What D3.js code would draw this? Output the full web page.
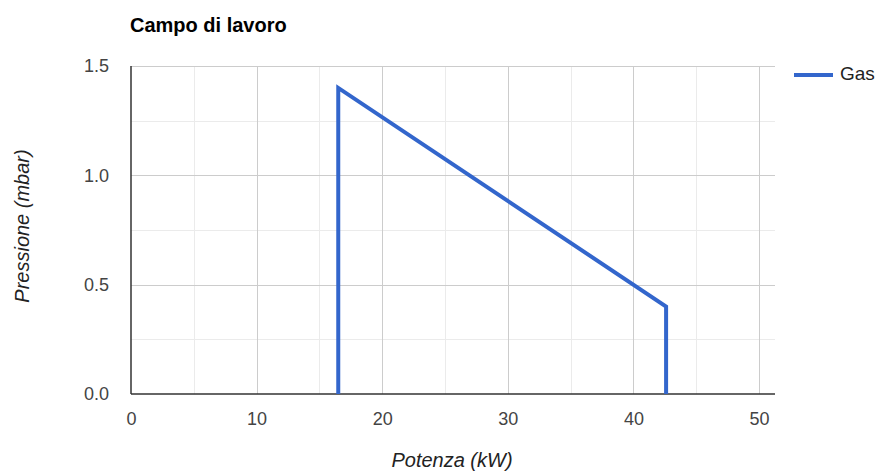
<!DOCTYPE html>
<html>
<head>
<meta charset="utf-8">
<script src="https://cdn.jsdelivr.net/npm/d3@7"></script>
<style>
  body { margin: 0; background: #fff; }
  text { font-family: "Liberation Sans", Arial, sans-serif; }
</style>
</head>
<body>
<script>
// data
const potenza = [16.5, 16.5, 42.6, 42.6];
const pressione = [0, 1.4, 0.4, 0];
const xTicks = [0, 10, 20, 30, 40, 50];
const yTicks = [0, 0.5, 1.0, 1.5];
const seriesName = "Gas";

const W = 881, H = 471;
const plot = { left: 131, right: 775, top: 66, bottom: 394 };

const svg = d3.select("body").append("svg")
  .attr("width", W).attr("height", H);

const x = d3.scaleLinear().domain([0, 51.27]).range([plot.left, plot.right]);
const y = d3.scaleLinear().domain([0, 1.5]).range([plot.bottom, plot.top]);

// minor gridlines
const xMinor = d3.range(5, 51, 10);
const yMinor = d3.range(0.25, 1.5, 0.5);
svg.append("g").selectAll("line").data(xMinor).join("line")
  .attr("x1", d => Math.round(x(d)) + 0.5).attr("x2", d => Math.round(x(d)) + 0.5)
  .attr("y1", plot.top).attr("y2", plot.bottom)
  .attr("stroke", "#ebebeb");
svg.append("g").selectAll("line").data(yMinor).join("line")
  .attr("y1", d => Math.round(y(d)) + 0.5).attr("y2", d => Math.round(y(d)) + 0.5)
  .attr("x1", plot.left).attr("x2", plot.right)
  .attr("stroke", "#ebebeb");

// major gridlines
svg.append("g").selectAll("line").data(xTicks.slice(1)).join("line")
  .attr("x1", d => Math.round(x(d)) + 0.5).attr("x2", d => Math.round(x(d)) + 0.5)
  .attr("y1", plot.top).attr("y2", plot.bottom)
  .attr("stroke", "#cccccc");
svg.append("g").selectAll("line").data(yTicks.slice(1)).join("line")
  .attr("y1", d => Math.round(y(d)) + 0.5).attr("y2", d => Math.round(y(d)) + 0.5)
  .attr("x1", plot.left).attr("x2", plot.right)
  .attr("stroke", "#cccccc");

// axes
const xAxis = d3.axisBottom(x).tickValues(xTicks).tickSize(0).tickPadding(18).tickFormat(d3.format("d"));
const yAxis = d3.axisLeft(y).tickValues(yTicks).tickSize(0).tickPadding(22).tickFormat(d3.format(".1f"));

const gx = svg.append("g").attr("transform", `translate(0,${plot.bottom})`).call(xAxis);
const gy = svg.append("g").attr("transform", `translate(${plot.left},0)`).call(yAxis);
[gx, gy].forEach(g => {
  g.select(".domain").remove();
  g.selectAll("text").attr("fill", "#444").style("font-size", "18px");
});

svg.append("line")
  .attr("x1", plot.left).attr("x2", plot.right)
  .attr("y1", plot.bottom).attr("y2", plot.bottom)
  .attr("stroke", "#333").attr("stroke-width", 1.5);
svg.append("line")
  .attr("x1", plot.left).attr("x2", plot.left)
  .attr("y1", plot.top).attr("y2", plot.bottom)
  .attr("stroke", "#333").attr("stroke-width", 1.5);

// series
const line = d3.line().x((d, i) => x(potenza[i])).y(d => y(d));
svg.append("path")
  .datum(pressione)
  .attr("d", line)
  .attr("fill", "none")
  .attr("stroke", "#3366cc")
  .attr("stroke-width", 4)
  .attr("stroke-linejoin", "miter");

// title
svg.append("text")
  .attr("x", 130).attr("y", 32)
  .attr("font-weight", "bold").attr("font-size", 20)
  .attr("fill", "#000")
  .text("Campo di lavoro");

// axis titles
svg.append("text")
  .attr("x", 452).attr("y", 467)
  .attr("text-anchor", "middle")
  .attr("font-style", "italic").attr("font-size", 20).attr("fill", "#222")
  .text("Potenza (kW)");
svg.append("text")
  .attr("transform", "translate(29,226) rotate(-90)")
  .attr("text-anchor", "middle")
  .attr("font-style", "italic").attr("font-size", 20).attr("fill", "#222")
  .text("Pressione (mbar)");

// legend
const lg = svg.append("g").attr("transform", "translate(794,75)");
lg.append("line").attr("x1", 0).attr("x2", 39).attr("y1", 0).attr("y2", 0)
  .attr("stroke", "#3366cc").attr("stroke-width", 4);
lg.append("text").attr("x", 46).attr("y", 5)
  .attr("font-size", 19).attr("fill", "#222")
  .text(seriesName);
</script>
</body>
</html>
